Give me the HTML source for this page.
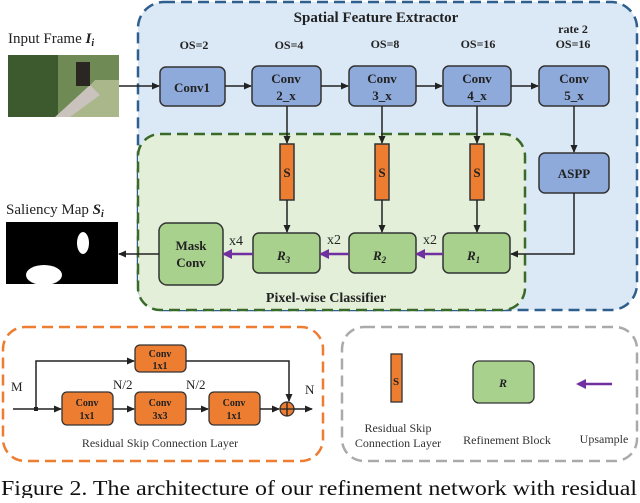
<!DOCTYPE html>
<html><head><meta charset="utf-8"><style>
body{margin:0;background:#fff;width:640px;height:498px;overflow:hidden}
svg text{font-family:"Liberation Serif",serif}
</style></head><body>
<svg width="640" height="498" viewBox="0 0 640 498" xmlns="http://www.w3.org/2000/svg">
<defs>
<marker id="a" markerWidth="8" markerHeight="8" refX="7" refY="4" orient="auto" markerUnits="userSpaceOnUse"><path d="M0,0.5 L8,4 L0,7.5 Z" fill="#222"/></marker>
<marker id="p" markerWidth="10" markerHeight="10" refX="8" refY="5" orient="auto" markerUnits="userSpaceOnUse"><path d="M0,0 L10,5 L0,10 Z" fill="#7030a0"/></marker>
</defs>
<rect x="138" y="2" width="499" height="308" rx="26" fill="#dbe8f6" stroke="#2e5f8f" stroke-width="2.5" stroke-dasharray="11,6"/>
<rect x="138" y="134" width="387" height="176" rx="22" fill="#e3efd9" stroke="#3a6a2a" stroke-width="2.5" stroke-dasharray="11,6"/>
<text x="376" y="22" font-size="15" font-weight="bold" text-anchor="middle" fill="#222">Spatial Feature Extractor</text>
<g font-size="12" font-weight="bold" text-anchor="middle" fill="#222">
<text x="194" y="49">OS=2</text><text x="289" y="49">OS=4</text><text x="385" y="48">OS=8</text><text x="478" y="48">OS=16</text>
<text x="573" y="33">rate 2</text><text x="573" y="48">OS=16</text></g>
<text x="8" y="43" font-size="15" fill="#222">Input Frame <tspan font-weight="bold" font-style="italic">I</tspan><tspan font-size="10" font-weight="bold" font-style="italic" dy="3">i</tspan></text>
<rect x="8" y="55" width="111" height="62" fill="#6f8a55"/>
<rect x="8" y="55" width="50" height="62" fill="#3d5a2e"/>
<polygon points="60,117 95,80 119,80 119,117" fill="#a9b78a"/>
<polygon points="55,117 90,85 100,95 70,117" fill="#c9c2bd"/>
<rect x="76" y="62" width="14" height="24" fill="#2a2622"/>
<text x="6" y="214" font-size="15" fill="#222">Saliency Map <tspan font-weight="bold" font-style="italic">S</tspan><tspan font-size="10" font-weight="bold" font-style="italic" dy="3">i</tspan></text>
<rect x="6" y="222" width="112" height="62" fill="#000"/>
<ellipse cx="83" cy="243" rx="6" ry="11" fill="#fff"/>
<ellipse cx="44" cy="275" rx="18" ry="10" fill="#fff"/>
<g fill="#8eaadb" stroke="#333" stroke-width="1.5">
<rect x="160" y="67" width="65" height="39" rx="6"/><rect x="252" y="66" width="69" height="40" rx="6"/>
<rect x="349" y="66" width="67" height="40" rx="6"/><rect x="443" y="66" width="68" height="40" rx="6"/>
<rect x="539" y="66" width="70" height="40" rx="6"/><rect x="539" y="153" width="70" height="40" rx="6"/></g>
<g font-size="13" font-weight="bold" text-anchor="middle" fill="#222">
<text x="192" y="92">Conv1</text>
<text x="286" y="83">Conv</text><text x="286" y="100">2_x</text>
<text x="382" y="83">Conv</text><text x="382" y="100">3_x</text>
<text x="477" y="83">Conv</text><text x="477" y="100">4_x</text>
<text x="574" y="83">Conv</text><text x="574" y="100">5_x</text>
<text x="574" y="178">ASPP</text></g>
<g fill="#ed7d31" stroke="#333" stroke-width="1.5">
<rect x="280" y="144" width="14" height="56"/><rect x="375" y="144" width="14" height="56"/><rect x="470" y="144" width="14" height="56"/></g>
<g font-size="13" font-weight="bold" text-anchor="middle" fill="#222"><text x="287" y="177">S</text><text x="382" y="177">S</text><text x="477" y="177">S</text></g>
<g fill="#a9d18e" stroke="#333" stroke-width="1.5">
<rect x="159" y="223" width="64" height="62" rx="8"/>
<rect x="253" y="233" width="67" height="40" rx="6"/><rect x="349" y="233" width="67" height="40" rx="6"/><rect x="443" y="233" width="67" height="40" rx="6"/></g>
<g font-size="13" font-weight="bold" text-anchor="middle" fill="#222">
<text x="191" y="250">Mask</text><text x="191" y="267">Conv</text></g>
<g font-size="13" font-weight="bold" font-style="italic" fill="#222">
<text x="277" y="260">R<tspan font-size="9" dy="3">3</tspan></text>
<text x="373" y="260">R<tspan font-size="9" dy="3">2</tspan></text>
<text x="467" y="260">R<tspan font-size="9" dy="3">1</tspan></text></g>
<text x="326" y="302" font-size="14" font-weight="bold" text-anchor="middle" fill="#222">Pixel-wise Classifier</text>
<g stroke="#222" stroke-width="1.5" fill="none" marker-end="url(#a)">
<line x1="119" y1="86" x2="159" y2="86"/><line x1="225" y1="86" x2="251" y2="86"/>
<line x1="321" y1="86" x2="348" y2="86"/><line x1="416" y1="86" x2="442" y2="86"/><line x1="511" y1="86" x2="538" y2="86"/>
<line x1="287" y1="106" x2="287" y2="143"/><line x1="382" y1="106" x2="382" y2="143"/><line x1="477" y1="106" x2="477" y2="143"/>
<line x1="574" y1="106" x2="574" y2="152"/>
<line x1="287" y1="200" x2="287" y2="232"/><line x1="382" y1="200" x2="382" y2="232"/><line x1="477" y1="200" x2="477" y2="232"/>
<polyline points="574,193 574,254 511,254"/>
<line x1="159" y1="254" x2="119" y2="254"/></g>
<g stroke="#7030a0" stroke-width="2.5" marker-end="url(#p)">
<line x1="443" y1="254" x2="417" y2="254"/><line x1="349" y1="254" x2="321" y2="254"/><line x1="253" y1="254" x2="224" y2="254"/></g>
<g font-size="14" fill="#222"><text x="229" y="245">x4</text><text x="327" y="244">x2</text><text x="423" y="244">x2</text></g>
<rect x="3" y="327" width="320" height="134" rx="22" fill="none" stroke="#ed7d31" stroke-width="2.5" stroke-dasharray="11,6"/>
<g fill="#ed7d31" stroke="#333" stroke-width="1.3">
<rect x="135" y="345" width="51" height="27" rx="5"/><rect x="62" y="392" width="51" height="33" rx="5"/>
<rect x="135" y="392" width="51" height="33" rx="5"/><rect x="209" y="392" width="51" height="33" rx="5"/>
<circle cx="287" cy="409" r="7"/></g>
<path d="M280,409 H294 M287,402 V416" stroke="#222" stroke-width="1.3"/>
<g font-size="10" font-weight="bold" text-anchor="middle" fill="#222">
<text x="160" y="357">Conv</text><text x="160" y="369">1x1</text>
<text x="87" y="406">Conv</text><text x="87" y="419">1x1</text>
<text x="160" y="406">Conv</text><text x="160" y="419">3x3</text>
<text x="234" y="406">Conv</text><text x="234" y="419">1x1</text></g>
<g stroke="#222" stroke-width="1.5" fill="none" marker-end="url(#a)">
<polyline points="13,409 61,409"/><polyline points="36,409 36,361 134,361"/>
<polyline points="186,361 289,361 289,401"/>
<line x1="113" y1="409" x2="134" y2="409"/><line x1="186" y1="409" x2="208" y2="409"/>
<line x1="260" y1="409" x2="279" y2="409"/><line x1="294" y1="409" x2="312" y2="409"/></g>
<rect x="34" y="407" width="4" height="4" fill="#222"/>
<g font-size="13" fill="#222"><text x="11" y="391">M</text><text x="113" y="389">N/2</text><text x="186" y="389">N/2</text><text x="305" y="394">N</text></g>
<text x="160" y="447" font-size="12" text-anchor="middle" fill="#333">Residual Skip Connection Layer</text>
<rect x="342" y="327" width="295" height="134" rx="22" fill="none" stroke="#aaa" stroke-width="2.5" stroke-dasharray="11,6"/>
<rect x="391" y="354" width="11" height="48" fill="#ed7d31" stroke="#333" stroke-width="1.3"/>
<text x="396" y="385" font-size="11" font-weight="bold" text-anchor="middle" fill="#222">S</text>
<rect x="473" y="361" width="61" height="42" rx="6" fill="#a9d18e" stroke="#333" stroke-width="1.3"/>
<text x="503" y="387" font-size="12" font-weight="bold" font-style="italic" text-anchor="middle" fill="#222">R</text>
<line x1="612" y1="384" x2="578" y2="384" stroke="#7030a0" stroke-width="2.5" marker-end="url(#p)"/>
<g font-size="12" text-anchor="middle" fill="#333">
<text x="398" y="432">Residual Skip</text><text x="398" y="447">Connection Layer</text>
<text x="507" y="444">Refinement Block</text><text x="604" y="443">Upsample</text></g>
<text x="1" y="495" font-size="21" fill="#111" textLength="636" lengthAdjust="spacingAndGlyphs">Figure 2. The architecture of our refinement network with residual</text>
</svg>
</body></html>
